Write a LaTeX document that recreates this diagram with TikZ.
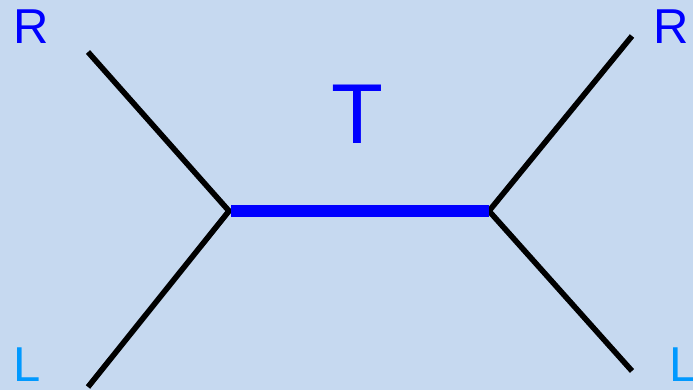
\documentclass[tikz,border=0pt]{standalone}
\usepackage{fontspec}
\setmainfont{Liberation Sans}
\usetikzlibrary{positioning}
\definecolor{bgblue}{RGB}{198,217,240}
\definecolor{lblue}{RGB}{0,153,255}
\tikzset{
  branch/.style={draw=black, line width=5.6pt},
  inner/.style={draw=blue, line width=12pt},
  leaf/.style={inner sep=0pt, anchor=base west, font=\fontsize{49}{49}\selectfont}
}
\begin{document}
\begin{tikzpicture}[x=1pt, y=-1pt]
  % background
  \fill[bgblue] (0,0) rectangle (693,390);
  \useasboundingbox (0,0) rectangle (693,390);
  % internal vertices and leaf ends
  \coordinate (u) at (229,211);
  \coordinate (v) at (489,211);
  \coordinate (ul) at (88,52);
  \coordinate (ll) at (88,387);
  \coordinate (ur) at (632,36);
  \coordinate (lr) at (632,371);
  % labels
  \node[leaf, text=blue] (rl) at (13,44) {R};
  \node[leaf, text=lblue] (lfl) at (13.5,381) {L};
  \node[leaf, text=blue] (rr) at (653,44) {R};
  \node[leaf, text=lblue] (lfr) at (669.5,381) {L};
  \node[inner sep=0pt, anchor=base, text=blue, font=\fontsize{85}{85}\selectfont] (t) at (357,144) {T};
  % edges
  \draw[branch] (ul) -- (u) -- (ll);
  \draw[branch] (ur) -- (v) -- (lr);
  \draw[inner] (u) ++(2pt,0) coordinate (u2) (u2) -- (v);
\end{tikzpicture}
\end{document}
